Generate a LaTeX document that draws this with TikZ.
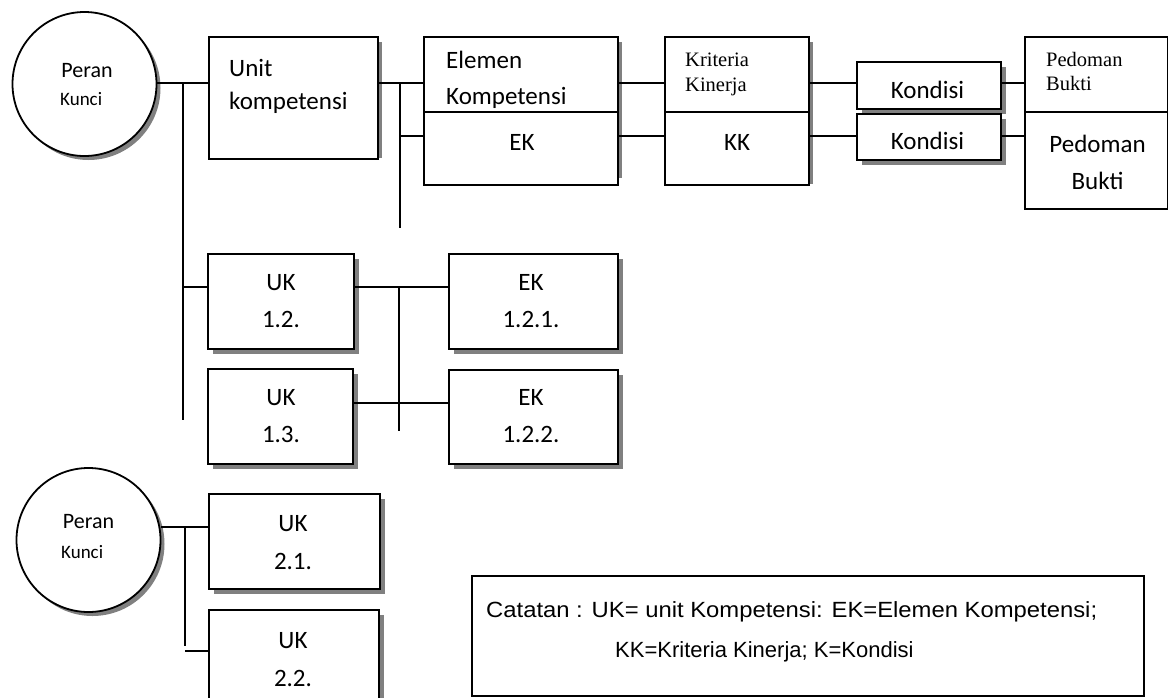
\documentclass[tikz,border=0pt]{standalone}
\usepackage{fontspec}
\setmainfont{Carlito}
\newfontfamily\serifface{Liberation Serif}
\newfontfamily\noteface{Liberation Sans}
\usetikzlibrary{shadows}

\tikzset{
  conn/.style={line width=1.8pt},
  box/.style={draw, line width=1.8pt, fill=white, rectangle, inner sep=0pt, anchor=north west},
  shbox/.style={box, drop shadow={shadow xshift=5pt, shadow yshift=-5pt, fill=black!50, opacity=1}},
  role/.style={draw, line width=1.8pt, fill=white, circle, inner sep=0pt, minimum size=144pt,
    drop shadow={shadow xshift=4pt, shadow yshift=-4pt, fill=black!50, opacity=1}},
  sidesh/.style={fill=black!50},
  lab/.style={inner sep=0pt, text depth=0pt},
  cal25/.style={lab, font=\fontsize{25}{30}\selectfont, text height=16.1pt},
  cal22/.style={lab, font=\fontsize{22}{26}\selectfont, text height=14.2pt},
  cal19/.style={lab, font=\fontsize{19}{23}\selectfont, text height=12.2pt},
  ser/.style={lab, font=\serifface\fontsize{20.5}{24}\selectfont, text height=13.6pt},
  nt/.style={lab, font=\noteface\fontsize{22}{26}\selectfont, text height=15.8pt},
}

\begin{document}
\begin{tikzpicture}[x=1pt, y=-1pt]
\useasboundingbox (0,0) rectangle (1168,697);
\clip (0,0) rectangle (1168,697);

% row levels of the connectors
\coordinate (yA) at (0,83);
\coordinate (yB) at (0,136);
\coordinate (yC) at (0,287);
\coordinate (yD) at (0,403);
\coordinate (yE) at (0,527);
\coordinate (yF) at (0,651);
% vertical trunks
\coordinate (j1) at (183,83);  \coordinate (j1e) at (183,420);
\coordinate (j2) at (400,83);  \coordinate (j2e) at (400,228);
\coordinate (j3) at (399,287); \coordinate (j3e) at (399,431);
\coordinate (j4) at (185,527); \coordinate (j4e) at (185,646);

% key roles
\node[role] (p1) at (84.5,84) {};
\node[role] (p2) at (88.5,540) {};

% first unit and its chain
\fill[sidesh] (377,42) rectangle (382,158);
\node[box, minimum width=169pt, minimum height=122pt] (unit) at (208,36) {};
\fill[sidesh] (617,42) rectangle (622,178);
\node[box, minimum width=194pt, minimum height=75pt] (elemA) at (423,36) {};
\node[box, minimum width=194pt, minimum height=73pt] (elemB) at (423,111) {};
\fill[sidesh] (808,42) rectangle (813,184);
\node[box, minimum width=144pt, minimum height=75pt] (kritA) at (664,36) {};
\node[box, minimum width=144pt, minimum height=73pt] (kritB) at (664,111) {};
\node[shbox, minimum width=144pt, minimum height=47pt] (kond1) at (856,61) {};
\node[shbox, minimum width=144pt, minimum height=46pt] (kond2) at (856,113) {};
\node[box, minimum width=143pt, minimum height=75pt] (pedA) at (1024,36) {};
\node[box, minimum width=143pt, minimum height=97pt] (pedB) at (1024,111) {};

% further units and elements
\node[shbox, minimum width=146pt, minimum height=95pt] (uk12) at (207,253) {};
\node[shbox, minimum width=145pt, minimum height=95pt] (uk13) at (207,368) {};
\node[shbox, minimum width=169pt, minimum height=95pt] (ek121) at (448,253) {};
\node[shbox, minimum width=169pt, minimum height=94pt] (ek122) at (448,369) {};
\node[shbox, minimum width=171pt, minimum height=95pt] (uk21) at (208,493) {};
\node[shbox, minimum width=170pt, minimum height=101pt] (uk22) at (208,609) {};

% note box
\node[box, minimum width=672pt, minimum height=120pt] (note) at (471,575) {};

% connectors
\draw[conn] (p1.east |- yA) -- (unit.west |- yA);
\draw[conn] (j1) -- (j1e);
\draw[conn] (j1 |- yC) -- (uk12.west |- yC);
\draw[conn] (unit.east |- yA) -- (elemA.west |- yA);
\draw[conn] (j2) -- (j2e);
\draw[conn] (j2 |- yB) -- (elemB.west |- yB);
\draw[conn] (elemA.east |- yA) -- (kritA.west |- yA);
\draw[conn] (elemB.east |- yB) -- (kritB.west |- yB);
\draw[conn] (kritA.east |- yA) -- (kond1.west |- yA);
\draw[conn] (kritB.east |- yB) -- (kond2.west |- yB);
\draw[conn] (kond1.east |- yA) -- (pedA.west |- yA);
\draw[conn] (kond2.east |- yB) -- (pedB.west |- yB);
\draw[conn] (uk12.east |- yC) -- (ek121.west |- yC);
\draw[conn] (j3) -- (j3e);
\draw[conn] (uk13.east |- yD) -- (ek122.west |- yD);
\draw[conn] (p2.east |- yE) -- (uk21.west |- yE);
\draw[conn] (j4) -- (j4e);
\draw[conn] (j4 |- yF) -- (uk22.west |- yF);

% texts
\node[cal22, anchor=center] (p1a) at (87,70) {Peran};
\node[cal19, anchor=west] (p1b) at (60,99) {Kunci};
\node[cal22, anchor=center] (p2a) at (88.5,521) {Peran};
\node[cal19, anchor=west] (p2b) at (61,552) {Kunci};

\node[cal25, anchor=west] (unitA) at (229,68) {Unit};
\node[cal25, anchor=west] (unitB) at (229,101) {kompetensi};
\node[cal25, anchor=west] (elemT1) at (446,60) {Elemen};
\node[cal25, anchor=west] (elemT2) at (446,96) {Kompetensi};
\node[cal25] (elemT3) at (522,142) {EK};
\node[ser, anchor=west] (kritT1) at (685,60) {Kriteria};
\node[ser, anchor=west] (kritT2) at (685,85) {Kinerja};
\node[cal25] (kritT3) at (737,142) {KK};
\node[cal25] (kondT1) at (927.5,90) {Kondisi};
\node[cal25] (kondT2) at (927.5,141) {Kondisi};
\node[ser, anchor=west] (pedT1) at (1046,60) {Pedoman};
\node[ser, anchor=west] (pedT2) at (1046,84) {Bukti};
\node[cal25] (pedT3) at (1097.5,144) {Pedoman};
\node[cal25] (pedT4) at (1097.5,181) {Bukti};

\node[cal25] (uk12a) at (281,282) {UK};
\node[cal25] (uk12b) at (281,319) {1.2.};
\node[cal25] (uk13a) at (281,397) {UK};
\node[cal25] (uk13b) at (281,434) {1.3.};
\node[cal25] (ek121a) at (531,282) {EK};
\node[cal25] (ek121b) at (531,319) {1.2.1.};
\node[cal25] (ek122a) at (531,397) {EK};
\node[cal25] (ek122b) at (531,434) {1.2.2.};
\node[cal25] (uk21a) at (293,523) {UK};
\node[cal25] (uk21b) at (293,561) {2.1.};
\node[cal25] (uk22a) at (293,640) {UK};
\node[cal25] (uk22b) at (293,678) {2.2.};

\node[nt, anchor=west] (noteA) at (486,610) {\scalebox{1.083}[1]{Catatan : UK= unit Kompetensi: EK=Elemen Kompetensi;}};
\node[nt, anchor=west] (noteB) at (615,650) {KK=Kriteria Kinerja; K=Kondisi};
\end{tikzpicture}
\end{document}
